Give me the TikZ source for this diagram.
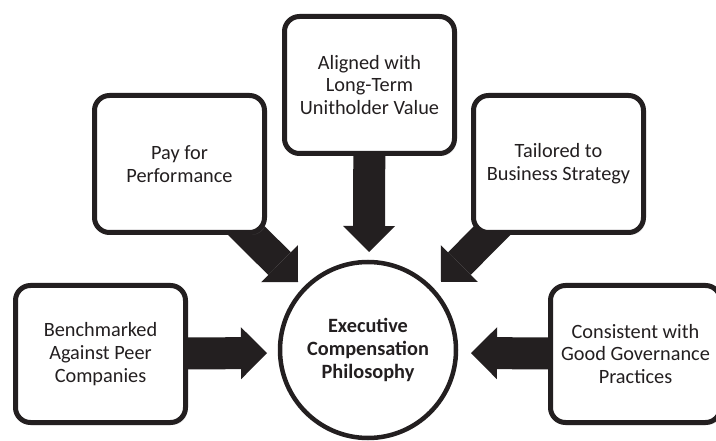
\documentclass[tikz,border=0pt]{standalone}
\usepackage{fontspec}
\setmainfont{Carlito}
\usetikzlibrary{arrows.meta,shadows}
\definecolor{ink}{HTML}{231F20}
\begin{document}
\begin{tikzpicture}[x=1pt,y=-1pt,
  box/.style={draw=ink, line width=5pt, rounded corners=15pt, fill=white,
    minimum width=170pt, minimum height=137pt, align=center, text=ink,
    font=\fontsize{20.3}{22.8}\selectfont,
    drop shadow={shadow xshift=2pt, shadow yshift=-2.5pt, opacity=0.22}},
  hub/.style={circle, draw=ink, line width=4.5pt, fill=white, minimum size=176pt,
    align=center, text=ink, font=\fontsize{20.3}{22.6}\selectfont\bfseries},
  barrow/.style={draw=ink, line width=32pt,
    -{Triangle[length=26pt,width=52pt,line width=0pt]}}
]
\clip (0,0) rectangle (716,441);
\fill[white] (0,0) rectangle (716,441);
% tips of the block arrows
\coordinate (tL) at (267,353);
\coordinate (tR) at (471,353);
\coordinate (tT) at (369,252);
\coordinate (tUL) at (298,282);
\coordinate (tUR) at (441,282);
% node positions (used by arrows before nodes are drawn)
\coordinate (pBench) at (100.5,354);
\coordinate (pPay) at (179.5,164);
\coordinate (pAlign) at (369.5,85);
\coordinate (pTail) at (558.5,164);
\coordinate (pCons) at (635.5,354);
% arrows
\draw[barrow] (pBench) -- (tL);
\draw[barrow] (pCons) -- (tR);
\draw[barrow] (pAlign) -- (tT);
\draw[barrow] (pPay) -- (tUL);
\draw[barrow] (pTail) -- (tUR);
% boxes
\node[box] (bench) at (pBench) {Benchmarked\\Against Peer\\Companies};
\node[box] (pay) at (pPay) {Pay for\\Performance};
\node[box] (align) at (pAlign) {Aligned with\\Long-Term\\Unitholder Value};
\node[box] (tail) at (pTail) {Tailored to\\Business Strategy};
\node[box] (cons) at (pCons) {Consistent with\\Good Governance\\Practices};
% hub
\node[hub] (hub) at (368,350) {Executive\\Compensation\\Philosophy};
\end{tikzpicture}
\end{document}
